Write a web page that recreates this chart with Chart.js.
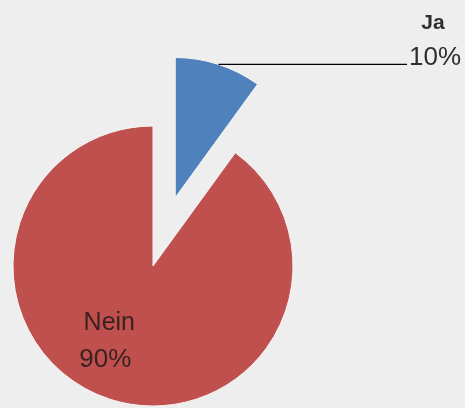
<!DOCTYPE html>
<html>
<head>
<meta charset="utf-8">
<script src="https://cdn.jsdelivr.net/npm/chart.js@4/dist/chart.umd.min.js"></script>
<style>
  html, body { margin: 0; padding: 0; background: #eeeeee; }
  #wrap { width: 465px; height: 408px; }
</style>
</head>
<body>
<div id="wrap"><canvas id="pieChart" width="465" height="408"></canvas></div>
<script>
const labels = ['Ja', 'Nein'];
const values = [10, 90];
const colors = ['#4f81bd', '#c0504d'];
// arc offset is divided by 4 inside Chart.js, so 288 moves the slice ~72px
const offsets = [288, 0];

const FONT = '"Liberation Sans", Arial, sans-serif';

// Chart.js grows an offset arc's radius and trims its angle; undo that so the
// exploded slice keeps the same radius and sweep as the rest of the pie
const keepExplodedShape = {
  id: 'keepExplodedShape',
  afterDatasetUpdate(chart, args) {
    const arcs = chart.getDatasetMeta(args.index).data;
    arcs.forEach(arc => {
      const off = (arc.options.offset || 0) / 4;
      if (!off) { arc.$radiusOffset = 0; return; }
      const fix = 1 - Math.sin(Math.min(Math.PI, arc.circumference));
      const ro = off * fix;
      const r = arc.outerRadius;
      const trim = ro / (Math.PI * r);
      arc.outerRadius = r - ro;
      arc.startAngle -= trim / 2;
      arc.endAngle += trim / 2;
      arc.$radiusOffset = ro;
    });
  }
};

// draws the slice labels: leader line for the small slice, inside text for the big one
const sliceLabels = {
  id: 'sliceLabels',
  afterDatasetsDraw(chart) {
    const ctx = chart.ctx;
    const arcs = chart.getDatasetMeta(0).data;
    const total = values.reduce((a, b) => a + b, 0);
    ctx.save();
    ctx.fillStyle = '#2e2e2e';

    // Ja: line from outer edge of the exploded slice, label at the right
    const ja = arcs[0];
    const mid = (ja.startAngle + ja.endAngle) / 2;
    const d = ja.outerRadius + ja.$radiusOffset + ja.options.offset / 4;
    const sx = ja.x + Math.cos(mid) * d;
    const sy = ja.y + Math.sin(mid) * d;
    const ex = chart.width - 58;
    ctx.strokeStyle = '#000000';
    ctx.lineWidth = 1.2;
    ctx.beginPath();
    ctx.moveTo(sx, sy);
    ctx.lineTo(ex, sy);
    ctx.stroke();
    ctx.font = '26px ' + FONT;
    ctx.textAlign = 'left';
    ctx.textBaseline = 'alphabetic';
    const pct = Math.round(values[0] / total * 100) + '%';
    ctx.fillText(pct, ex + 2, sy + 1);
    ctx.font = 'bold 21px ' + FONT;
    ctx.textAlign = 'center';
    ctx.fillText(labels[0], ex + 26, sy - 35);

    // Nein: inside the slice
    const nein = arcs[1];
    const a = nein.startAngle + (nein.endAngle - nein.startAngle) * 0.537;
    const r = nein.outerRadius * 0.61;
    const cx = nein.x + Math.cos(a) * r;
    const cy = nein.y + Math.sin(a) * r;
    ctx.fillStyle = '#3a2222';
    ctx.font = '25px ' + FONT;
    ctx.textAlign = 'center';
    ctx.textBaseline = 'middle';
    ctx.fillText(labels[1], cx - 1, cy - 17);
    ctx.font = '26px ' + FONT;
    ctx.fillText(Math.round(values[1] / total * 100) + '%', cx - 5, cy + 20);
    ctx.restore();
  }
};

new Chart(document.getElementById('pieChart'), {
  type: 'pie',
  data: {
    labels: labels,
    datasets: [{
      data: values,
      backgroundColor: colors,
      borderColor: '#f4f4f4',
      borderWidth: 1,
      offset: offsets,
      hoverOffset: 0
    }]
  },
  options: {
    responsive: false,
    animation: false,
    events: [],
    radius: 140,
    cutout: '0%',
    layout: { padding: { left: 0, right: 159, top: 124, bottom: 0 } },
    plugins: {
      legend: { display: false },
      tooltip: { enabled: false }
    }
  },
  plugins: [keepExplodedShape, sliceLabels]
});
</script>
</body>
</html>
